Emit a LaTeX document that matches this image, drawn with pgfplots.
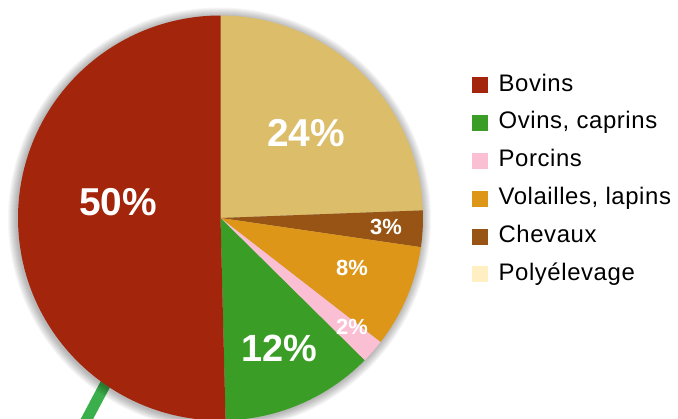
\documentclass[border=0pt]{standalone}
\usepackage{fontspec}
\setmainfont{Liberation Sans}
\usepackage{pgfplots}
\usepackage{pgfplotstable}
\pgfplotsset{compat=1.18}
\definecolor{cBov}{HTML}{A3250B}
\definecolor{cOv}{HTML}{3A9E26}
\definecolor{cPor}{HTML}{FBBFD3}
\definecolor{cVol}{HTML}{DE9618}
\definecolor{cChe}{HTML}{985415}
\definecolor{cPolyPie}{HTML}{DBBD6A}
\definecolor{cPolyLeg}{HTML}{FFEFC2}
\definecolor{cLine}{HTML}{3BAF4B}

% share of each group (percent), clockwise from 12 o'clock
\pgfplotstableread{
name value color
Polyelevage 24.4 cPolyPie
Chevaux 2.9 cChe
Volailles 8.2 cVol
Porcins 1.9 cPor
Ovins 12.2 cOv
Bovins 50.4 cBov
}\piedata

\pgfplotsset{sq/.style={legend image code/.code={\fill[#1] (-3bp,-7.5bp) rectangle (12bp,7.5bp); \path (23bp,0bp);}}}

\begin{document}
\begin{tikzpicture}
\begin{axis}[
  width=678bp, height=419bp, scale only axis,
  xmin=0, xmax=678, ymin=0, ymax=419, y dir=reverse,
  hide axis, clip=true,
  legend style={draw=none, fill=none, at={(axis cs:469,72)}, anchor=north west,
    font=\fontsize{24}{24}\selectfont\addfontfeature{LetterSpace=2.5}, row sep=15.8bp,
    nodes={inner sep=0pt, text height=17bp, text depth=5bp}},
  legend cell align=left,
]
% green line behind the pie
\addplot[color=cLine, line width=11bp, forget plot] coordinates {(106,383) (80,432)};
% soft shadow
\pgfplotsinvokeforeach{1,...,9}{
  \fill[black, opacity=0.035] (axis cs:219.5,219) circle[radius=202.5bp+#1bp];
}
% pie slices
\def\cum{0}
\pgfplotsforeachungrouped \idx in {0,...,5}{%
  \pgfplotstablegetelem{\idx}{value}\of\piedata \let\slval\pgfplotsretval
  \pgfplotstablegetelem{\idx}{color}\of\piedata \let\slcol\pgfplotsretval
  \pgfmathsetmacro\angA{90-3.6*\cum}
  \pgfmathsetmacro\angB{90-3.6*(\cum+\slval)}
  \edef\temp{\noexpand\fill[\slcol] (axis cs:220.5,218) -- ++(\angA:202.5bp) arc[start angle=\angA, end angle=\angB, radius=202.5bp] -- cycle;}
  \temp
  \pgfmathsetmacro\cum{\cum+\slval}
}
% labels
\node[text=white, font=\bfseries\fontsize{39}{39}\selectfont] at (axis cs:118,202) {50\%};
\node[text=white, font=\bfseries\fontsize{39}{39}\selectfont] at (axis cs:306,133) {24\%};
\node[text=white, font=\bfseries\fontsize{38}{38}\selectfont] at (axis cs:279,348) {12\%};
\node[text=white, font=\bfseries\fontsize{22}{22}\selectfont] at (axis cs:386,227) {3\%};
\node[text=white, font=\bfseries\fontsize{22}{22}\selectfont] at (axis cs:352,268) {8\%};
\node[text=white, font=\bfseries\fontsize{22}{22}\selectfont] at (axis cs:352,327) {2\%};
% legend
\addlegendimage{sq=cBov}\addlegendentry{Bovins}
\addlegendimage{sq=cOv}\addlegendentry{Ovins, caprins}
\addlegendimage{sq=cPor}\addlegendentry{Porcins}
\addlegendimage{sq=cVol}\addlegendentry{Volailles, lapins}
\addlegendimage{sq=cChe}\addlegendentry{Chevaux}
\addlegendimage{sq=cPolyLeg}\addlegendentry{Polyélevage}
\end{axis}
\pgfresetboundingbox
\path[use as bounding box] (current axis.south west) rectangle (current axis.north east);
\end{tikzpicture}
\end{document}
